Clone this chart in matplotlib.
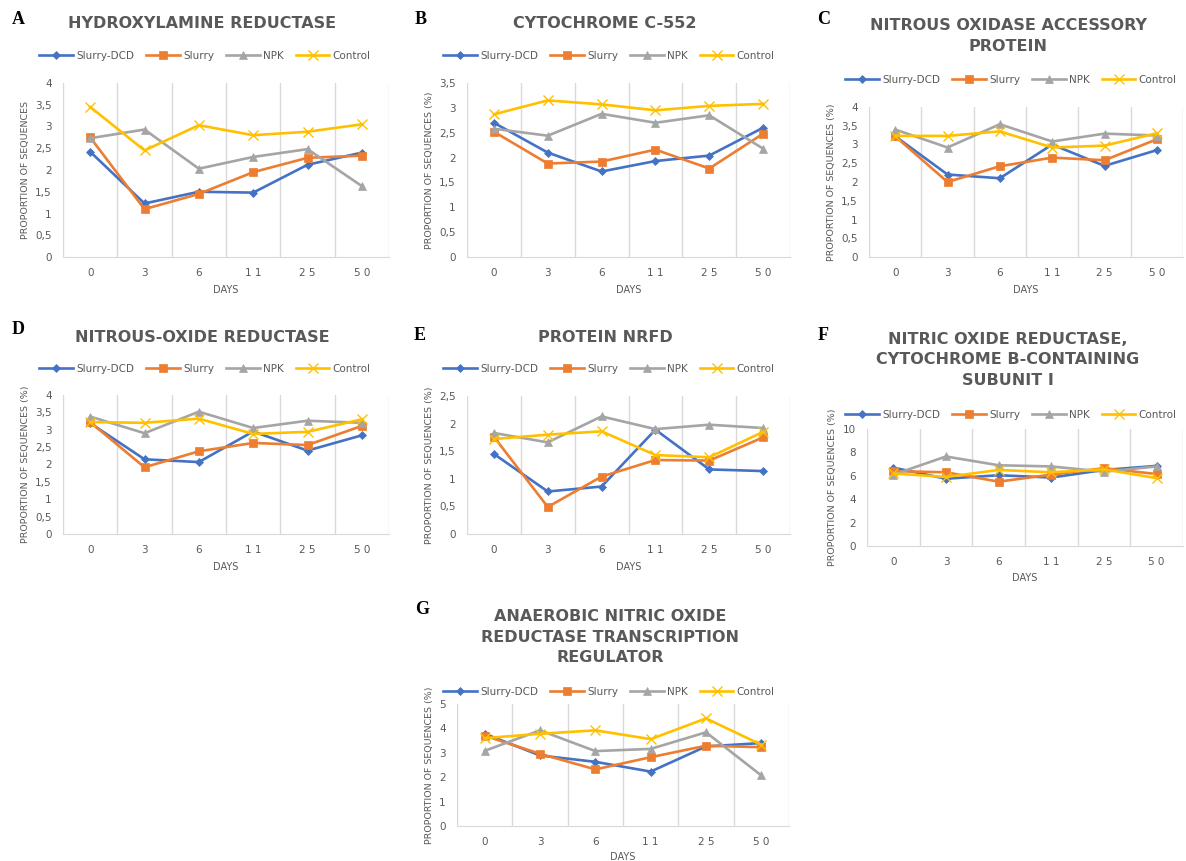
import numpy as np
import matplotlib
matplotlib.use("Agg")
from matplotlib import pyplot as plt

W, H = 1186, 861

days = ["0", "3", "6", "1 1", "2 5", "5 0"]
series_names = ["Slurry-DCD", "Slurry", "NPK", "Control"]
colors = ["#4472C4", "#ED7D31", "#A5A5A5", "#FFC000"]
markers = ["D", "s", "^", "x"]
msizes = [4.5, 6, 6, 6.5]

# values, one list per treatment
a_dcd = [2.42, 1.23, 1.50, 1.48, 2.12, 2.40]
a_slurry = [2.75, 1.10, 1.45, 1.95, 2.28, 2.33]
a_npk = [2.73, 2.93, 2.03, 2.30, 2.48, 1.63]
a_control = [3.45, 2.45, 3.03, 2.80, 2.88, 3.05]

b_dcd = [2.70, 2.10, 1.72, 1.93, 2.04, 2.60]
b_slurry = [2.52, 1.88, 1.92, 2.16, 1.78, 2.48]
b_npk = [2.58, 2.44, 2.88, 2.70, 2.85, 2.18]
b_control = [2.87, 3.15, 3.07, 2.95, 3.04, 3.08]

c_dcd = [3.22, 2.20, 2.10, 3.00, 2.43, 2.85]
c_slurry = [3.22, 2.00, 2.42, 2.65, 2.58, 3.14]
c_npk = [3.40, 2.92, 3.54, 3.08, 3.29, 3.24]
c_control = [3.23, 3.23, 3.35, 2.92, 2.97, 3.30]

d_dcd = [3.19, 2.15, 2.07, 2.95, 2.40, 2.84]
d_slurry = [3.22, 1.92, 2.38, 2.62, 2.56, 3.11]
d_npk = [3.38, 2.90, 3.52, 3.05, 3.26, 3.20]
d_control = [3.22, 3.20, 3.32, 2.88, 2.94, 3.30]

e_dcd = [1.45, 0.77, 0.86, 1.89, 1.17, 1.14]
e_slurry = [1.76, 0.49, 1.04, 1.34, 1.33, 1.75]
e_npk = [1.83, 1.66, 2.13, 1.90, 1.98, 1.92]
e_control = [1.72, 1.80, 1.86, 1.43, 1.39, 1.85]

f_dcd = [6.70, 5.75, 6.05, 5.85, 6.50, 6.85]
f_slurry = [6.40, 6.30, 5.50, 6.10, 6.65, 6.15]
f_npk = [6.10, 7.65, 6.90, 6.80, 6.35, 6.80]
f_control = [6.20, 5.90, 6.50, 6.30, 6.55, 5.80]

g_dcd = [3.78, 2.89, 2.63, 2.23, 3.26, 3.40]
g_slurry = [3.70, 2.96, 2.32, 2.82, 3.29, 3.23]
g_npk = [3.08, 3.92, 3.07, 3.16, 3.84, 2.07]
g_control = [3.60, 3.78, 3.92, 3.56, 4.41, 3.33]

grey = "#595959"

fig = plt.figure(figsize=(W / 100, H / 100), dpi=100)


def panel(box, letter, letter_xy, title, title_xy, legend_xy, ymax, ystep,
          data, ylabel, xlabel_y):
    x0, y0, x1, y1 = box
    ax = fig.add_axes([x0 / W, 1 - y1 / H, (x1 - x0) / W, (y1 - y0) / H])
    x = np.arange(len(days))
    for i in range(len(days) + 1):
        ax.axvline(i - 0.5, color="#d9d9d9", lw=1, zorder=0)
    for vals, name, c, m, ms in zip(data, series_names, colors, markers, msizes):
        ax.plot(x, vals, marker=m, color=c, lw=1.9, ms=ms, label=name,
                markeredgewidth=1.0 if m == "x" else 0.5)
    ax.set_xlim(-0.5, len(days) - 0.5)
    ax.set_ylim(0, ymax)
    ticks = np.arange(0, ymax + 1e-9, ystep)
    ax.set_yticks(ticks)
    ax.set_yticklabels([("%g" % t).replace(".", ",") for t in ticks])
    ax.set_xticks(x)
    ax.set_xticklabels(days)
    ax.tick_params(length=0, labelsize=7.5, labelcolor=grey, pad=8)
    for s in ["top", "right", "left"]:
        ax.spines[s].set_visible(False)
    ax.spines["bottom"].set_color("#d9d9d9")
    ax.set_ylabel(ylabel, fontsize=6.8, color=grey, labelpad=4)
    fig.text(((x0 + x1) / 2) / W, 1 - xlabel_y / H, "DAYS", fontsize=7,
             color=grey, ha="center", va="center")
    fig.text(letter_xy[0] / W, 1 - letter_xy[1] / H, letter,
             family="Liberation Serif", fontweight="bold", fontsize=13,
             ha="center", va="center")
    fig.text(title_xy[0] / W, 1 - title_xy[1] / H, title, fontsize=11.5,
             fontweight="bold", color=grey, ha="center", va="center",
             linespacing=1.45)
    ax.legend(loc="center", bbox_to_anchor=(legend_xy[0] / W, 1 - legend_xy[1] / H),
              bbox_transform=fig.transFigure, ncol=4, frameon=False,
              fontsize=7.5, labelcolor=grey, handlelength=3.2,
              columnspacing=1.2, handletextpad=0.3)
    return ax


yl = "PROPORTION OF SEQUENCES (%)"
panel((63, 83, 389, 257), "A", (18, 20), "HYDROXYLAMINE REDUCTASE", (202, 24),
      (205, 56), 4, 0.5, [a_dcd, a_slurry, a_npk, a_control],
      "PROPORTION OF SEQUENCES", 290)
panel((467, 83, 790, 257), "B", (421, 20), "CYTOCHROME C-552", (605, 24),
      (609, 56), 3.5, 0.5, [b_dcd, b_slurry, b_npk, b_control], yl, 290)
panel((869, 107, 1183, 257), "C", (824, 20),
      "NITROUS OXIDASE ACCESSORY\nPROTEIN", (1008, 36),
      (1011, 80), 4, 0.5, [c_dcd, c_slurry, c_npk, c_control], yl, 290)
panel((63, 395, 389, 534), "D", (18, 330), "NITROUS-OXIDE REDUCTASE", (202, 337),
      (205, 369), 4, 0.5, [d_dcd, d_slurry, d_npk, d_control], yl, 567)
panel((467, 396, 790, 534), "E", (420, 335), "PROTEIN NRFD", (605, 337),
      (609, 369), 2.5, 0.5, [e_dcd, e_slurry, e_npk, e_control], yl, 567)
panel((867, 429, 1183, 546), "F", (823, 335),
      "NITRIC OXIDE REDUCTASE,\nCYTOCHROME B-CONTAINING\nSUBUNIT I", (1008, 360),
      (1011, 415), 10, 2, [f_dcd, f_slurry, f_npk, f_control], yl, 578)
panel((457, 704, 789, 826), "G", (422, 610),
      "ANAEROBIC NITRIC OXIDE\nREDUCTASE TRANSCRIPTION\nREGULATOR", (610, 637),
      (609, 692), 5, 1, [g_dcd, g_slurry, g_npk, g_control], yl, 857)

fig.savefig("out.png", dpi=100, facecolor="white")
